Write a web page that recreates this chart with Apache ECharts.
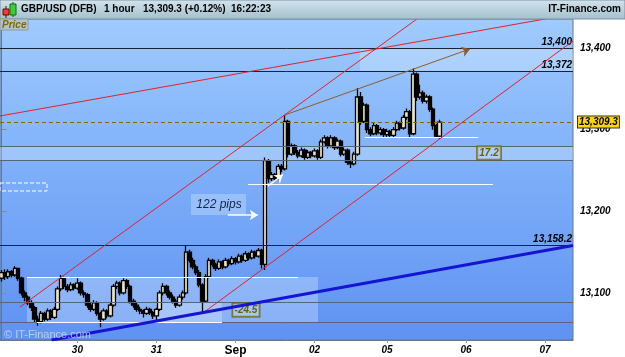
<!DOCTYPE html>
<html><head><meta charset="utf-8">
<script src="https://cdn.jsdelivr.net/npm/echarts@6/dist/echarts.min.js"></script>
<style>html,body{margin:0;padding:0;background:#fff}#c{width:625px;height:357px}</style>
</head><body><div id="c"></div>
<script>
// ---- axis / category data ----
const dayLabels = ['29','30','31','Sep','02','05','06','07'];
const dayHours = [23,24,24,24,22,24,24,9];
const dayFirstHour = [1,0,0,0,0,0,0,0];
const priceTicks = [13100,13200,13300,13400];
const yMin = 13042.4, yMax = 13435.5;
const lastPrice = 13309.3;

// ---- hourly candles ----
const opens = [13118,13125,13120,13126,13122,13130,13118,13100,13095,13088,13082,13068,13065,13075,13068,13078,13070,13080,13105,13118,13108,13104,13110,13106,13112,13100,13098,13085,13080,13088,13075,13068,13078,13072,13085,13108,13112,13100,13115,13108,13090,13085,13080,13078,13075,13080,13076,13072,13080,13100,13108,13100,13095,13090,13085,13095,13100,13150,13140,13132,13125,13110,13090,13120,13140,13135,13130,13138,13132,13140,13136,13142,13138,13145,13140,13148,13143,13150,13145,13152,13135,13262,13240,13245,13240,13255,13252,13310,13270,13280,13272,13268,13275,13266,13272,13268,13274,13266,13285,13290,13280,13290,13278,13286,13270,13275,13260,13258,13270,13340,13310,13330,13300,13295,13305,13296,13300,13294,13298,13293,13300,13308,13302,13315,13322,13295,13368,13340,13345,13335,13340,13325,13305,13292];
const closes = [13125,13120,13126,13122,13130,13118,13100,13095,13088,13082,13068,13065,13075,13068,13078,13070,13080,13105,13118,13108,13104,13110,13106,13112,13100,13098,13085,13080,13088,13075,13068,13078,13072,13085,13108,13112,13100,13115,13108,13090,13085,13080,13078,13075,13080,13076,13072,13080,13100,13108,13100,13095,13090,13085,13095,13100,13150,13140,13132,13125,13110,13090,13120,13140,13135,13130,13138,13132,13140,13136,13142,13138,13145,13140,13148,13143,13150,13145,13152,13135,13262,13240,13245,13240,13255,13252,13310,13270,13280,13272,13268,13275,13266,13272,13268,13274,13266,13285,13290,13280,13290,13278,13286,13270,13275,13260,13258,13270,13340,13310,13330,13300,13295,13305,13296,13300,13294,13298,13293,13300,13308,13302,13315,13322,13295,13368,13340,13345,13335,13340,13325,13305,13292,13309.3];
const lows = [13114,13116,13117,13119,13120,13115,13097,13090,13085,13078,13064,13060,13063,13065,13066,13067,13068,13078,13102,13105,13101,13102,13103,13104,13097,13094,13082,13077,13078,13072,13058,13066,13069,13070,13083,13105,13097,13098,13105,13087,13082,13077,13074,13070,13073,13073,13068,13064,13078,13097,13097,13092,13087,13082,13083,13092,13098,13137,13129,13122,13107,13075,13088,13118,13132,13127,13128,13129,13130,13133,13134,13135,13136,13137,13138,13140,13141,13142,13143,13130,13128,13235,13237,13236,13238,13248,13250,13266,13268,13269,13265,13266,13263,13264,13265,13266,13263,13264,13283,13277,13278,13275,13276,13267,13268,13257,13253,13256,13268,13306,13308,13296,13292,13293,13293,13293,13291,13291,13290,13291,13298,13299,13300,13312,13290,13293,13335,13337,13332,13332,13322,13300,13290,13289];
const highs = [13128,13129,13129,13128,13133,13131,13120,13103,13097,13091,13084,13072,13078,13077,13081,13080,13083,13108,13122,13120,13111,13113,13112,13118,13114,13103,13100,13088,13091,13090,13077,13081,13080,13088,13111,13115,13114,13118,13117,13110,13093,13088,13083,13080,13083,13082,13078,13082,13103,13112,13110,13103,13098,13093,13098,13103,13158,13153,13143,13135,13128,13112,13123,13143,13142,13137,13141,13140,13143,13142,13145,13144,13148,13147,13151,13150,13153,13152,13155,13154,13266,13264,13248,13247,13258,13258,13318,13312,13283,13282,13275,13278,13277,13275,13274,13277,13276,13288,13293,13292,13293,13292,13289,13288,13278,13277,13262,13273,13351,13346,13333,13332,13303,13308,13307,13303,13302,13301,13300,13303,13311,13310,13318,13326,13324,13375,13370,13355,13348,13343,13342,13327,13307,13312];

// ---- drawn objects, in data coordinates [hour index, price] ----
const levelLines = [13400, 13372, 13158.2];
const bandLines = [13279.5, 13262.3, 13089, 13064.5];
const redLineA = [[5.57,13082.8],[126.1,13435.5]];
const redLineB = [[61.14,13075.5],[173.5,13408.6]];
const redLineC = [[-0.5,13316.7],[165.0,13435.5]];
const blueLine = [[15.16,13042.4],[173.5,13158.2]];
const brownArrow = [[86.04,13318],[142.2,13398.8]];
const pipsArrow = [[68.7,13195.5],[77.8,13195.5]];
const smallArrow = [[80.9,13231],[85.4,13245]];
const whiteLines = [
  [[7.7,13119.5],[90.0,13119.5]],
  [[10.7,13064.4],[66.9,13064.4]],
  [[74.8,13233.4],[149.2,13233.4]],
  [[110.3,13291],[144.7,13291]]
];
const lightZones = [
  [[108.8,13400],[173.5,13372]],
  [[-0.5,13279.5],[173.5,13262.3]],
  [[7.7,13119.5],[96.07,13064.5]],
  [[47.2,13089],[66.9,13064.5]],
  [[57.5,13221.2],[74.2,13195.5]]
];
const dashedZone = [[-0.5,13234.7],[13.77,13224.9]];
const boxLabels = [
  {text:'17.2', at:[148.0,13271.4]},
  {text:'-24.5', at:[74.2,13079.2]}
];
const pipsLabel = {text:'122 pips', at:[66.0,13207.7]};

// ---- build ----
const categories = [], showLabel = [];
dayLabels.forEach((d, di) => {
  for (let k = 0; k < dayHours[di]; k++) {
    const h = dayFirstHour[di] + k;
    categories.push(d + ' ' + String(h).padStart(2,'0') + ':00');
    showLabel.push(h === 0 && di > 0);
  }
});
const N = categories.length;
const candles = opens.map((o,i) => [o, closes[i], lows[i], highs[i]]);
const fmt = v => v.toLocaleString('en-US');
const FF = 'Arial, "Liberation Sans", sans-serif';
const lblStyle = {color:'#000', fontStyle:'italic', fontWeight:'bold', fontSize:10, fontFamily:FF};

const levelData = [];
levelLines.forEach(v => levelData.push({yAxis:v, lineStyle:{color:'#1b2333', width:1, type:'solid'},
  label:Object.assign({show:true, position:'insideEndTop', distance:[1,1], formatter:fmt(v)}, lblStyle)}));
bandLines.forEach(v => levelData.push({yAxis:v, lineStyle:{color:'#56657a', width:1, type:'solid'}, label:{show:false}}));
levelData.push({yAxis:lastPrice, lineStyle:{color:'#7a6c00', width:1, type:[4,3]},
  label:Object.assign({show:true, position:'end', distance:5, formatter:fmt(lastPrice),
    backgroundColor:'#ffd500', borderColor:'#333', borderWidth:1, padding:[1,1,0,1]}, lblStyle)});

const trend = (data, color, width, name) => ({type:'line', name, xAxisIndex:1, data, symbol:'none', z:5,
  lineStyle:{color, width}, silent:true, clip:true});
const HF = 'bold 10px Arial, "Liberation Sans"';

const chart = echarts.init(document.getElementById('c'));
chart.setOption({
  animation:false,
  backgroundColor:'#ffffff',
  grid:{left:0, right:52, top:19, bottom:17, show:true, borderColor:'#66798a', borderWidth:1,
    backgroundColor:new echarts.graphic.LinearGradient(0,0,0,1,[{offset:0,color:'#9fcbfe'},{offset:0.5,color:'#7cadf9'},{offset:1,color:'#5f92f2'}])},
  xAxis:[{
    type:'category', data:categories, boundaryGap:true,
    axisLine:{lineStyle:{color:'#66798a'}},
    axisTick:{show:true, interval:(i)=>showLabel[i], alignWithLabel:true, length:3, lineStyle:{color:'#8899aa'}},
    axisLabel:{interval:(i)=>showLabel[i], margin:5,
      formatter:v => { const d = v.split(' ')[0]; return d === 'Sep' ? '{b|Sep}' : '{a|' + d + '}'; },
      rich:{a:{fontStyle:'italic', fontWeight:'bold', fontSize:10, color:'#000', fontFamily:FF},
            b:{fontWeight:'bold', fontSize:12, color:'#000', fontFamily:FF}}},
    splitLine:{show:false}
  },{
    type:'value', min:-0.5, max:N-0.5, show:false
  }],
  yAxis:{
    type:'value', position:'right', min:yMin, max:yMax, scale:true,
    axisLine:{show:true, lineStyle:{color:'#66798a'}},
    axisTick:{show:true, customValues:priceTicks, length:5, lineStyle:{color:'#8a8a8a'}},
    axisLabel:Object.assign({customValues:priceTicks, margin:7, formatter:fmt}, lblStyle),
    splitLine:{show:false}
  },
  series:[
    {type:'line', name:'zones', xAxisIndex:1, data:[], z:1, silent:true,
      markArea:{silent:true, data:[
        ...lightZones.map(z => [{coord:z[0], itemStyle:{color:'rgba(225,238,255,0.32)'}},{coord:z[1]}]),
        [{coord:dashedZone[0], itemStyle:{color:'rgba(0,0,0,0)', borderColor:'#ffffff', borderWidth:1, borderType:'dashed'}},{coord:dashedZone[1]}]
      ]}},
    {type:'line', name:'levels', xAxisIndex:1, data:[], z:2, silent:true,
      markLine:{silent:true, symbol:['none','none'], data:levelData}},
    {type:'line', name:'white', xAxisIndex:1, data:[], z:2, silent:true,
      markLine:{silent:true, symbol:['none','none'], label:{show:false},
        lineStyle:{color:'#ffffff', width:1, type:'solid'},
        data:whiteLines.map(l => [{coord:l[0]},{coord:l[1]}])}},
    {type:'candlestick', name:'GBP/USD', data:candles, z:3, barWidth:4,
      itemStyle:{color:'#ece6c8', color0:'#000000', borderColor:'#000000', borderColor0:'#000000', borderWidth:1.3}},
    trend(redLineA, '#e3202c', 1, 'redA'),
    trend(redLineB, '#e3202c', 1, 'redB'),
    trend(redLineC, '#e3202c', 1, 'redC'),
    trend(blueLine, '#1414d2', 3, 'blue'),
    {type:'line', name:'arrows', xAxisIndex:1, data:[], z:6, silent:true,
      markLine:{silent:true, symbol:['none','arrow'], symbolSize:8, label:{show:false},
        data:[
          [{coord:brownArrow[0], lineStyle:{color:'#8e5b2e', width:1, type:'solid'}},{coord:brownArrow[1]}],
          [{coord:pipsArrow[0], lineStyle:{color:'#ffffff', width:1.5, type:'solid'}},{coord:pipsArrow[1]}],
          [{coord:smallArrow[0], lineStyle:{color:'#ffffff', width:1.5, type:'solid'}},{coord:smallArrow[1]}]
        ]}},
    {type:'line', name:'labels', xAxisIndex:1, data:[], z:7, silent:true,
      markPoint:{silent:true, symbol:'circle', symbolSize:0, data:[
        ...boxLabels.map(b => ({coord:b.at, label:{show:true, position:'inside', formatter:b.text,
          color:'#6b5f00', fontStyle:'italic', fontWeight:'bold', fontSize:10, fontFamily:FF,
          backgroundColor:'rgba(190,215,255,0.55)', borderColor:'#6b5f00', borderWidth:1, padding:[2,2,1,2]}})),
        {coord:pipsLabel.at, label:{show:true, position:'inside', formatter:pipsLabel.text,
          color:'#15254a', fontStyle:'italic', fontSize:12, fontFamily:FF}}
      ]}}
  ],
  graphic:[
    {type:'rect', z:100, shape:{x:0,y:0,width:625,height:19},
      style:{fill:new echarts.graphic.LinearGradient(0,0,0,1,[{offset:0,color:'#d3e4ed'},{offset:1,color:'#a4bfcd'}]), stroke:'#7d93a2', lineWidth:1}},
    {type:'line', z:101, shape:{x1:6,y1:6,x2:6,y2:18}, style:{stroke:'#600', lineWidth:1}},
    {type:'rect', z:102, shape:{x:3,y:9,width:6,height:6}, style:{fill:'#e84040', stroke:'#700', lineWidth:1}},
    {type:'line', z:101, shape:{x1:13,y1:2,x2:13,y2:17}, style:{stroke:'#060', lineWidth:1}},
    {type:'rect', z:102, shape:{x:10,y:4,width:6,height:11}, style:{fill:'#3ccc3c', stroke:'#070', lineWidth:1}},
    {type:'text', z:103, left:21, top:4, style:{text:'GBP/USD (DFB)', font:HF, fill:'#000'}},
    {type:'text', z:103, left:104, top:4, style:{text:'1 hour', font:HF, fill:'#000'}},
    {type:'text', z:103, left:143, top:4, style:{text:'13,309.3 (+0.12%)', font:HF, fill:'#000'}},
    {type:'text', z:103, left:231, top:4, style:{text:'16:22:23', font:HF, fill:'#000'}},
    {type:'text', z:103, right:4, top:4, style:{text:'IT-Finance.com', font:HF, fill:'#000'}},
    {type:'rect', z:100, shape:{x:0,y:19,width:28,height:11}, style:{fill:'#b4c3cb', stroke:'#8a9aa6', lineWidth:1}},
    {type:'text', z:103, left:2, top:20, style:{text:'Price', font:'italic bold 10px Arial, "Liberation Sans"', fill:'#7a6a00'}},
    {type:'text', z:103, left:4, top:329, style:{text:'© IT-Finance.com', font:'11px Arial, "Liberation Sans"', fill:'rgba(215,225,240,0.75)'}}
  ]
});
</script></body></html>
